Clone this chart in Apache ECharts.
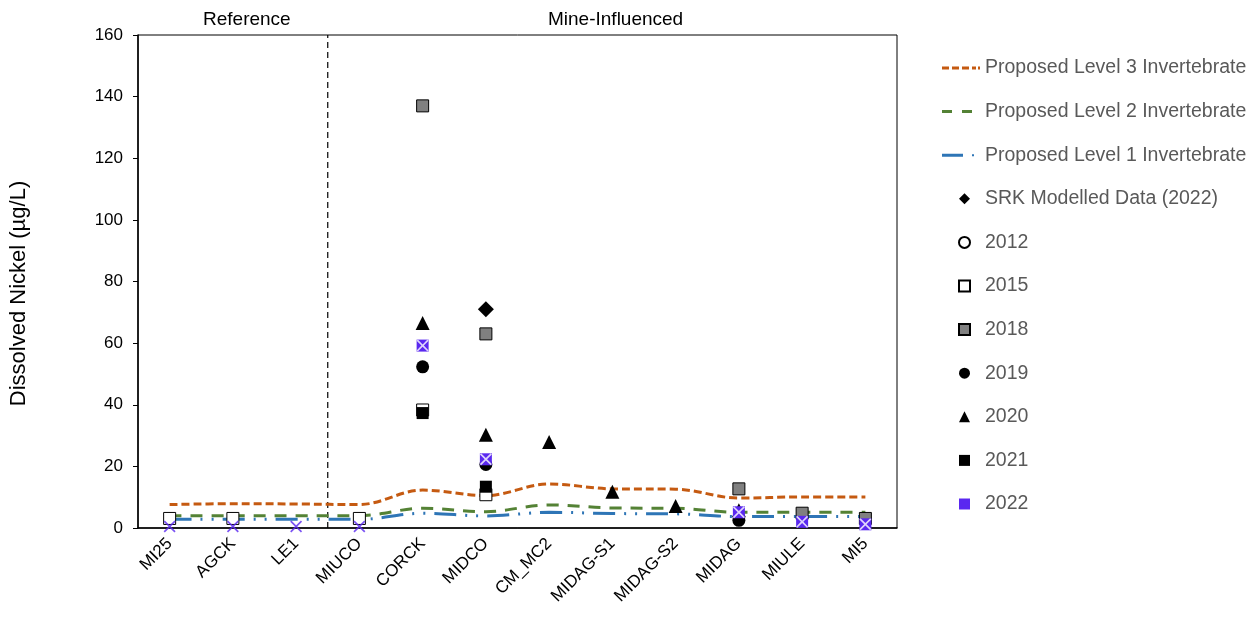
<!DOCTYPE html>
<html>
<head>
<meta charset="utf-8">
<script src="https://cdn.jsdelivr.net/npm/echarts@6/dist/echarts.min.js"></script>
<style>
  html, body { margin: 0; padding: 0; background: #fff; }
  #chart { width: 1255px; height: 619px; }
</style>
</head>
<body>
<div id="chart"></div>
<script>
// sites along the x axis
const sites = ['MI25', 'AGCK', 'LE1', 'MIUCO', 'CORCK', 'MIDCO', 'CM_MC2', 'MIDAG-S1', 'MIDAG-S2', 'MIDAG', 'MIULE', 'MI5'];
const yTicks = [0, 20, 40, 60, 80, 100, 120, 140, 160];

// proposed benchmark levels (ug/L)
const level3 = [7.6, 7.9, 7.8, 7.6, 12.3, 10.5, 14.3, 12.7, 12.6, 9.7, 10.1, 10.1];
const level2 = [4.0, 4.0, 4.0, 4.0, 6.4, 5.3, 7.5, 6.5, 6.4, 5.1, 5.1, 5.1];
const level1 = [2.8, 2.8, 2.8, 2.8, 4.8, 3.9, 5.1, 4.7, 4.6, 3.7, 3.7, 3.7];

// measured / modelled dissolved nickel
const srk2022 = [null, null, null, null, null, 71, null, null, null, null, null, null];
const y2012 = [null, null, null, null, null, null, null, null, null, null, null, null];
const y2015 = [3.1, 3.1, null, 3.1, 38.3, 10.8, null, null, null, null, null, null];
const y2018 = [null, null, null, null, 137, 63, null, null, null, 12.7, 4.8, 3.1];
const y2019 = [null, null, null, null, 52.3, 20.6, null, null, null, 2.5, null, null];
const y2020 = [null, null, null, null, 66.5, 30.3, 27.9, 11.8, 7.1, 5.8, null, null];
const y2021 = [null, null, null, null, 37.3, 13.4, null, null, null, null, null, null];
const y2022 = [0.5, 0.5, 0.5, 0.5, 59.2, 22.3, null, null, null, 5.1, 2.0, 1.2];

// section divider sits between LE1 and MIUCO (value axis 0..12)
const divider = 3;

const FONT = '"Liberation Sans", Arial, sans-serif';
const PURPLE = '#5a28f0';
const hollowX = [0, 1, 2, 3]; // 2022 points drawn as bare crosses
const crossPath = 'path://M0,1 L1,0 L5,4 L9,0 L10,1 L6,5 L10,9 L9,10 L5,6 L1,10 L0,9 L4,5 Z';

// legend line samples (38x12 box, dashes drawn as small bars)
const box = 'M0,0h0.01v0.01h-0.01z M37.99,11.99h0.01v0.01h-0.01z ';
const icon3 = 'path://' + box + 'M0,4.5h7v3h-7z M10,4.5h7v3h-7z M20,4.5h7v3h-7z M30,4.5h4v3h-4z M36,4.5h2v3h-2z';
const icon2 = 'path://' + box + 'M0,4.5h10v3h-10z M20,4.5h10v3h-10z';
const icon1 = 'path://' + box + 'M0,4.5h21v3h-21z M30,5h2v2h-2z';

const chart = echarts.init(document.getElementById('chart'));

function levelSeries(name, data, color, dash) {
  return {
    name: name,
    type: 'line',
    data: data,
    smooth: 0.35,
    symbol: 'none',
    z: 2,
    itemStyle: { color: color },
    lineStyle: { color: color, width: 3, type: dash, cap: 'butt' }
  };
}

function scatterSeries(name, data, symbol, size, fill, border) {
  return {
    name: name,
    type: 'scatter',
    data: data,
    symbol: symbol,
    symbolSize: size,
    z: 5,
    itemStyle: { color: fill, borderColor: border, borderWidth: border ? 1 : 0, opacity: 1 }
  };
}

const rect22 = y2022.map(function (v, i) {
  if (v == null) return null;
  if (hollowX.indexOf(i) >= 0) return { value: v, itemStyle: { color: 'rgba(0,0,0,0)', borderWidth: 0 } };
  return v;
});
const cross22 = y2022.map(function (v, i) {
  if (v == null) return null;
  if (hollowX.indexOf(i) >= 0) return { value: v, itemStyle: { color: PURPLE } };
  return v;
});

const legendText = { fontSize: 19.5, color: '#595959', lineHeight: 20, fontFamily: FONT };

const option = {
  animation: false,
  textStyle: { fontFamily: FONT },
  grid: { left: 137, right: 358, top: 35, bottom: 91, show: true, borderColor: '#000', borderWidth: 1, backgroundColor: 'transparent' },
  graphic: [
    { type: 'text', left: 203, top: 10, style: { text: 'Reference', font: '19px ' + FONT, fill: '#000' } },
    { type: 'text', left: 548, top: 10, style: { text: 'Mine-Influenced', font: '19px ' + FONT, fill: '#000' } }
  ],
  legend: [{
    orient: 'vertical',
    left: 942,
    top: 58,
    padding: 0,
    itemWidth: 38,
    itemHeight: 12,
    itemGap: 23.6,
    textStyle: legendText,
    data: [
      { name: 'Proposed Level 3 Invertebrate', icon: icon3 },
      { name: 'Proposed Level 2 Invertebrate', icon: icon2 },
      { name: 'Proposed Level 1 Invertebrate', icon: icon1 }
    ]
  }, {
    orient: 'vertical',
    left: 958,
    top: 188.8,
    padding: 0,
    itemWidth: 11,
    itemHeight: 11,
    itemGap: 23.6,
    textStyle: Object.assign({ padding: [0, 0, 0, 10] }, legendText),
    data: ['SRK Modelled Data (2022)', '2012', '2015', '2018', '2019', '2020', '2021', '2022']
  }],
  xAxis: [{
    type: 'category',
    data: sites,
    boundaryGap: true,
    axisLine: { lineStyle: { color: '#000', width: 1.5 } },
    axisTick: { alignWithLabel: true, length: 5, lineStyle: { color: '#000' } },
    axisLabel: { rotate: 45, fontSize: 17, color: '#000', margin: 13, fontFamily: FONT },
    splitLine: { show: false }
  }, {
    type: 'value',
    min: 0,
    max: 12,
    show: false,
    splitLine: { show: false }
  }],
  yAxis: {
    type: 'value',
    min: yTicks[0],
    max: yTicks[yTicks.length - 1],
    interval: 20,
    name: 'Dissolved Nickel (µg/L)',
    nameLocation: 'middle',
    nameGap: 108,
    nameTextStyle: { fontSize: 22, color: '#000', fontFamily: FONT, padding: [0, 24, 0, 0] },
    axisLine: { show: true, lineStyle: { color: '#000', width: 1.5 } },
    axisTick: { show: true, length: 5, lineStyle: { color: '#000' } },
    axisLabel: { fontSize: 17, color: '#000', margin: 15, fontFamily: FONT },
    splitLine: { show: false }
  },
  series: [
    levelSeries('Proposed Level 3 Invertebrate', level3, '#c55a11', [8, 4]),
    levelSeries('Proposed Level 2 Invertebrate', level2, '#548235', [12, 9]),
    levelSeries('Proposed Level 1 Invertebrate', level1, '#2e75b6', [22, 9, 2, 9, 2, 9]),
    {
      type: 'line',
      xAxisIndex: 1,
      data: [[divider, 0], [divider, 160]],
      symbol: 'none',
      silent: true,
      z: 1,
      lineStyle: { color: '#000', width: 1.2, type: [6, 4] }
    },
    scatterSeries('2012', y2012, 'circle', 12, '#fff', '#000'),
    scatterSeries('2015', y2015, 'rect', 12, '#fff', '#000'),
    scatterSeries('2018', y2018, 'rect', 12, '#808080', '#000'),
    scatterSeries('2019', y2019, 'circle', 13, '#000', null),
    scatterSeries('2020', y2020, 'triangle', 14, '#000', null),
    scatterSeries('2021', y2021, 'rect', 12, '#000', null),
    scatterSeries('2022', rect22, 'rect', 12, PURPLE, null),
    {
      name: '2022',
      type: 'scatter',
      data: cross22,
      symbol: crossPath,
      symbolSize: 12,
      z: 6,
      itemStyle: { color: '#fff' }
    },
    scatterSeries('SRK Modelled Data (2022)', srk2022, 'diamond', 16, '#000', null)
  ]
};

chart.setOption(option);
</script>
</body>
</html>
